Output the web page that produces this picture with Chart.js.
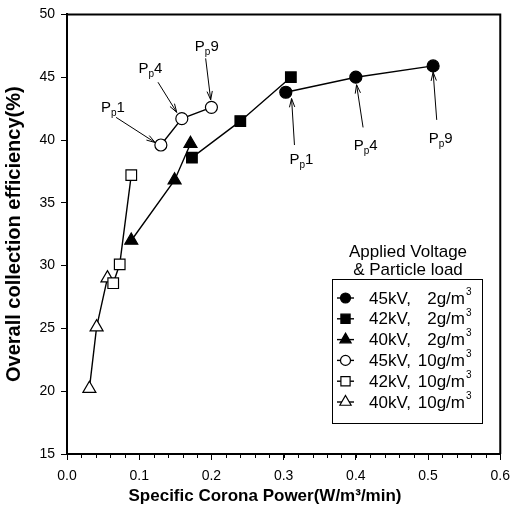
<!DOCTYPE html>
<html lang="en">
<head>
  <meta charset="UTF-8">
  <title>Collection efficiency vs corona power</title>
  <script src="https://cdn.jsdelivr.net/npm/chart.js"></script>
  <style>
    body { margin: 0; background: #fff; }
    canvas { display: block; }
  </style>
</head>
<body>
  <canvas id="chart" width="518" height="524"></canvas>

  <script>
    const x45kV2g = [0.303, 0.400, 0.507];
    const y45kV2g = [43.8, 45.0, 45.9];
    const x42kV2g = [0.173, 0.240, 0.310];
    const y42kV2g = [38.6, 41.5, 45.0];
    const x40kV2g = [0.089, 0.149, 0.171];
    const y40kV2g = [32.0, 36.8, 39.7];
    const x45kV10g = [0.130, 0.159, 0.200];
    const y45kV10g = [39.6, 41.7, 42.6];
    const x42kV10g = [0.064, 0.073, 0.089];
    const y42kV10g = [28.6, 30.1, 37.2];
    const x40kV10g = [0.031, 0.041, 0.056];
    const y40kV10g = [20.2, 25.1, 29.0];

    const seriesNames = [
      ['45kV,', '2g/m'], ['42kV,', '2g/m'], ['40kV,', '2g/m'],
      ['45kV,', '10g/m'], ['42kV,', '10g/m'], ['40kV,', '10g/m']
    ];

    // P_p labels: [digit, labelX, labelY, arrowFromX, arrowFromY, arrowToX, arrowToY]
    const ppNotes = [
      ['1', 0.047, 42.2, 0.068, 41.8, 0.122, 39.8],
      ['4', 0.099, 45.3, 0.126, 44.6, 0.152, 42.2],
      ['9', 0.177, 47.1, 0.192, 46.5, 0.199, 43.2],
      ['1', 0.308, 38.1, 0.315, 39.6, 0.311, 43.3],
      ['4', 0.397, 39.2, 0.410, 41.0, 0.401, 44.4],
      ['9', 0.501, 39.8, 0.512, 41.6, 0.507, 45.4]
    ];

    const FONT = 'Arial, "Liberation Sans", sans-serif';
    const pts = (xs, ys) => xs.map((x, i) => ({ x: x, y: ys[i] }));

    const mk = (xs, ys, style, filled, radius) => ({
      data: pts(xs, ys),
      showLine: true,
      borderColor: '#000',
      borderWidth: 1.4,
      pointStyle: style,
      pointRadius: radius,
      pointBackgroundColor: filled ? '#000' : '#fff',
      pointBorderColor: '#000',
      pointBorderWidth: 1.2
    });

    const datasets = [
      mk(x45kV2g, y45kV2g, 'circle', true, 6),
      mk(x42kV2g, y42kV2g, 'rect', true, 7.5),
      mk(x40kV2g, y40kV2g, 'triangle', true, 7.5),
      mk(x45kV10g, y45kV10g, 'circle', false, 6),
      mk(x42kV10g, y42kV10g, 'rect', false, 7.5),
      mk(x40kV10g, y40kV10g, 'triangle', false, 7.5)
    ];

    const drawArrow = (ctx, x1, y1, x2, y2) => {
      const a = Math.atan2(y2 - y1, x2 - x1);
      ctx.beginPath();
      ctx.moveTo(x1, y1);
      ctx.lineTo(x2, y2);
      ctx.moveTo(x2 - 9 * Math.cos(a - 0.3), y2 - 9 * Math.sin(a - 0.3));
      ctx.lineTo(x2, y2);
      ctx.lineTo(x2 - 9 * Math.cos(a + 0.3), y2 - 9 * Math.sin(a + 0.3));
      ctx.stroke();
    };

    const extras = {
      id: 'extras',
      afterDraw(chart) {
        const ctx = chart.ctx;
        const a = chart.chartArea;
        const sx = chart.scales.x, sy = chart.scales.y;
        ctx.save();
        ctx.strokeStyle = '#000';
        ctx.fillStyle = '#000';

        // frame top/right
        ctx.lineWidth = 2;
        ctx.beginPath();
        ctx.moveTo(a.left, a.top);
        ctx.lineTo(a.right, a.top);
        ctx.lineTo(a.right, a.bottom);
        ctx.stroke();

        // minor x ticks
        ctx.lineWidth = 1;
        ctx.beginPath();
        for (let v = 0; v <= 0.6001; v += 0.02) {
          const px = Math.round(sx.getPixelForValue(v)) + 0.5;
          ctx.moveTo(px, a.bottom);
          ctx.lineTo(px, a.bottom + 4);
        }
        ctx.stroke();

        // x axis title (sits a little left of centre in the original)
        ctx.textAlign = 'center';
        ctx.textBaseline = 'alphabetic';
        ctx.font = 'bold 17px ' + FONT;
        ctx.fillText('Specific Corona Power(W/m³/min)', 265, 501);

        // P_p annotations
        ctx.lineWidth = 1;
        ppNotes.forEach(n => {
          const lx = sx.getPixelForValue(n[1]);
          const ly = sy.getPixelForValue(n[2]);
          ctx.textBaseline = 'alphabetic';
          ctx.textAlign = 'left';
          ctx.font = '15px ' + FONT;
          ctx.fillText('P', lx, ly);
          const w = ctx.measureText('P').width;
          ctx.font = '10px ' + FONT;
          ctx.fillText('p', lx + w, ly + 4);
          const w2 = ctx.measureText('p').width;
          ctx.font = '15px ' + FONT;
          ctx.fillText(n[0], lx + w + w2, ly);
          drawArrow(ctx, sx.getPixelForValue(n[3]), sy.getPixelForValue(n[4]),
            sx.getPixelForValue(n[5]), sy.getPixelForValue(n[6]));
        });

        // legend
        const bx = 332, by = 279, bw = 150, bh = 144;
        ctx.textAlign = 'center';
        ctx.font = '17px ' + FONT;
        ctx.fillText('Applied Voltage', bx + bw / 2 + 1, by - 22);
        ctx.fillText('& Particle load', bx + bw / 2 + 1, by - 4);
        ctx.lineWidth = 1;
        ctx.strokeRect(bx + 0.5, by + 0.5, bw, bh);

        datasets.forEach((ds, i) => {
          const cy = 298 + i * 20.8;
          ctx.lineWidth = 1.4;
          ctx.beginPath();
          ctx.moveTo(337, cy);
          ctx.lineTo(354, cy);
          ctx.stroke();
          ctx.fillStyle = ds.pointBackgroundColor;
          ctx.lineWidth = 1.2;
          Chart.helpers.drawPoint(ctx, { pointStyle: ds.pointStyle, radius: ds.pointRadius - 1, rotation: 0, borderWidth: 1.2 }, 345.5, cy);
          ctx.fillStyle = '#000';
          ctx.font = '17px ' + FONT;
          ctx.textBaseline = 'middle';
          ctx.textAlign = 'left';
          ctx.fillText(seriesNames[i][0], 369, cy + 1);
          ctx.textAlign = 'right';
          ctx.fillText(seriesNames[i][1], 465, cy + 1);
          ctx.textAlign = 'left';
          ctx.font = '10px ' + FONT;
          ctx.fillText('3', 466, cy - 6);
        });
        ctx.restore();
      }
    };

    new Chart(document.getElementById('chart'), {
      type: 'scatter',
      data: { datasets: datasets },
      options: {
        responsive: false,
        animation: false,
        layout: { padding: { top: 14, right: 11, left: 0, bottom: 0 } },
        plugins: { legend: { display: false }, tooltip: { enabled: false } },
        scales: {
          x: {
            type: 'linear', min: 0, max: 0.6,
            afterFit: s => { s.height = 70; },
            ticks: {
              stepSize: 0.1, color: '#000', padding: 8,
              font: { family: FONT, size: 14 },
              callback: v => v.toFixed(1)
            },
            grid: { drawOnChartArea: false, tickLength: 6, color: '#000' },
            border: { color: '#000', width: 2 },
            title: { display: false }
          },
          y: {
            type: 'linear', min: 15, max: 50,
            afterFit: s => { s.width = 67; },
            ticks: {
              stepSize: 5, color: '#000', padding: 6,
              font: { family: FONT, size: 14 }
            },
            grid: { drawOnChartArea: false, tickLength: 6, color: '#000' },
            border: { color: '#000', width: 2 },
            title: {
              display: true, text: 'Overall collection efficiency(%)', color: '#000',
              font: { family: FONT, size: 20, weight: 'bold' }, padding: { top: 2, bottom: 0 }
            }
          }
        }
      },
      plugins: [extras]
    });
  </script>
</body>
</html>
